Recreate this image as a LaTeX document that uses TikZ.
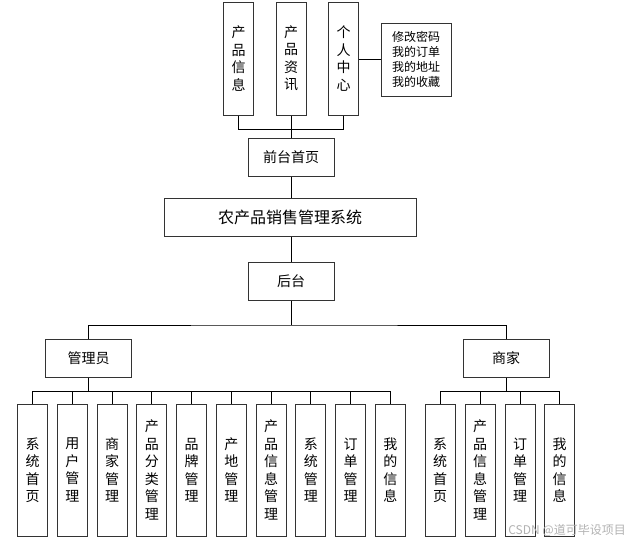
\documentclass[tikz,border=0pt]{standalone}
\usepackage{fontspec}
\setmainfont{Noto Sans CJK SC}
\begin{document}
\begin{tikzpicture}[x=1pt,y=-1pt,
  box/.style={draw=black!80, line width=1pt, fill=white, inner sep=0pt, align=center,
    font=\fontsize{14}{17.5}\selectfont},
  hbox/.style={box, minimum width=86pt, minimum height=38pt},
  topv/.style={box, minimum width=30pt, minimum height=113pt},
  botv/.style={box, minimum width=30pt, minimum height=132pt},
  link/.style={draw=black, line width=0.9pt}]
\useasboundingbox (0,0) rectangle (631,541);
% top row
\node[topv] (pi) at (238.5,58.5) {产\\品\\信\\息};
\node[topv] (pz) at (291,58.5) {产\\品\\资\\讯};
\node[topv] (gr) at (343.5,58.5) {个\\人\\中\\心};
\node[box, minimum width=70pt, minimum height=73pt, font=\fontsize{12}{15}\selectfont] (gx) at (416,59.5) {修改密码\\我的订单\\我的地址\\我的收藏};
\node[hbox] (qt) at (291,157) {前台首页};
\node[box, minimum width=252pt, minimum height=38pt, font=\fontsize{16}{18}\selectfont] (main) at (290,217) {农产品销售管理系统};
\node[hbox] (ht) at (291,281) {后台};
\node[hbox] (gly) at (88.5,358) {管理员};
\node[hbox] (sj) at (506,358) {商家};
% admin children
\node[botv] (a0) at (32.5,470) {系\\统\\首\\页};
\node[botv] (a1) at (72.25,470) {用\\户\\管\\理};
\node[botv] (a2) at (112,470) {商\\家\\管\\理};
\node[botv] (a3) at (151.75,470) {产\\品\\分\\类\\管\\理};
\node[botv] (a4) at (191.5,470) {品\\牌\\管\\理};
\node[botv] (a5) at (231.25,470) {产\\地\\管\\理};
\node[botv] (a6) at (271,470) {产\\品\\信\\息\\管\\理};
\node[botv] (a7) at (310.75,470) {系\\统\\管\\理};
\node[botv] (a8) at (350.5,470) {订\\单\\管\\理};
\node[botv] (a9) at (390.25,470) {我\\的\\信\\息};
% merchant children
\node[botv] (m0) at (440,470) {系\\统\\首\\页};
\node[botv] (m1) at (480,470) {产\\品\\信\\息\\管\\理};
\node[botv] (m2) at (520,470) {订\\单\\管\\理};
\node[botv] (m3) at (559.5,470) {我\\的\\信\\息};
% connectors
\coordinate (tb) at (291,129.5);
\draw[link] (pi.south) |- (tb) -| (gr.south);
\draw[link] (pz.south) -- (qt.north);
\draw[link] (gr.east |- gx.west) -- (gx.west);
\draw[link] (qt.south) -- (qt.south |- main.north);
\draw[link] (ht.north |- main.south) -- (ht.north);
\coordinate (mb) at (291,325);
\draw[link] (ht.south) -- (mb);
\draw[link] (gly.north) |- (mb) -| (sj.north);
\coordinate (ab) at (88.5,391);
\draw[link] (gly.south) -- (ab);
\foreach \i in {0,...,9} { \draw[link] (ab) -| (a\i.north); }
\coordinate (sb) at (506,391);
\draw[link] (sj.south) -- (sb);
\foreach \i in {0,...,3} { \draw[link] (sb) -| (m\i.north); }
% watermark
\node[text=black!30, font=\fontsize{12}{14}\selectfont, inner sep=0pt, anchor=east] (wm) at (626,530) {CSDN @道可毕设项目};
\end{tikzpicture}
\end{document}
